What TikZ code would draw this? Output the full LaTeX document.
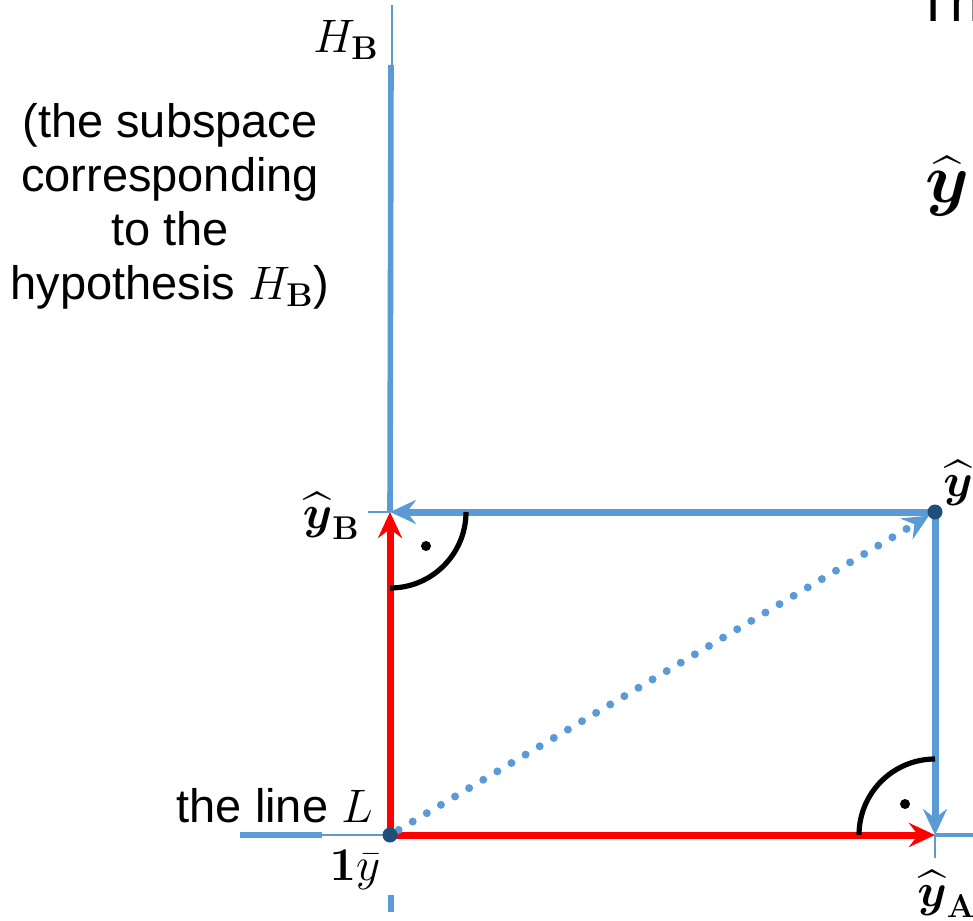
\RequirePackage{fix-cm}
\documentclass[tikz,border=0pt]{standalone}
\usepackage{amsmath}
\usepackage[no-math]{fontspec}
\setmainfont{Liberation Sans}
\usetikzlibrary{arrows.meta}
\definecolor{axisblue}{HTML}{5B9BD5}
\definecolor{pointblue}{HTML}{1F4E79}
\newcommand{\yhat}{\widehat{\boldsymbol{y}}}

\begin{document}
\begin{tikzpicture}[x=0.5pt, y=-0.5pt, >={Stealth[length=13pt, width=12pt, inset=4.5pt]},
  thinaxis/.style={axisblue, line width=0.8pt},
  thickaxis/.style={axisblue, line width=2.8pt},
  redvec/.style={red, line width=3.5pt, ->},
  bluevec/.style={axisblue, line width=3.5pt, ->},
  dotvec/.style={axisblue, line width=4pt, line cap=round, dash pattern=on 0pt off 8.2pt, ->},
  pointdot/.style={circle, fill=pointblue, inner sep=0pt, minimum size=7.5pt},
  rangle/.style={black, line width=2.6pt},
  lbl/.style={font=\fontsize{23.5}{27}\selectfont, inner sep=0pt}]
\useasboundingbox (0,0) rectangle (973,920);
\coordinate (ybar) at (390,835);
\coordinate (yhat) at (935,512);
\coordinate (yB) at (390,512);
\coordinate (yA) at (935,835);
\draw[thinaxis] (392,5) -- (392,65);
\draw[thickaxis] (391,65) -- (yB);
\draw[thickaxis] (391,895) -- (391,912);
\draw[thickaxis] (240,835) -- (322,835);
\draw[thinaxis] (322,835) -- (ybar);
\draw[axisblue, line width=1.8pt] (yA) -- (973,835);
\draw[thinaxis] (368,512) -- (yB);
\draw[thinaxis] (yA) -- (935,858);
\draw[redvec] (ybar) -- (yB);
\draw[redvec] (ybar) -- (yA);
\draw[bluevec] (yhat) -- (yB);
\draw[bluevec] (yhat) -- (yA);
\draw[dotvec, shorten <=5pt, shorten >=3.5pt] (ybar) -- (yhat);
\draw[rangle] (466,512) arc[start angle=0, end angle=90, radius=76];
\draw[rangle] (935,759) arc[start angle=-90, end angle=-180, radius=76];
\fill (426,546) circle[radius=5];
\fill (905,804) circle[radius=5];
\node[pointdot] (ybardot) at (ybar) {};
\node[pointdot] (yhatdot) at (yhat) {};
\node[lbl, anchor=north, align=center] (subspace) at (170,103) {(the subspace\\corresponding\\to the\\hypothesis $H_{\mathbf{B}}$)};
\node[lbl, anchor=base west, font=\fontsize{28}{32}\selectfont] (title) at (916,22) {Th};
\node[lbl, anchor=west, font=\fontsize{35}{40}\selectfont] (yhatside) at (925,186) {$\yhat$};
\node[lbl, anchor=south west] (yhatlbl) at (943,506) {$\yhat$};
\node[lbl, anchor=north west] (yAlbl) at (917,870) {$\yhat_{\mathbf{A}}$};
\node[lbl, anchor=east] (yBlbl) at (360,516) {$\yhat_{\mathbf{B}}$};
\node[lbl] (HBlbl) at (346,40) {$H_{\mathbf{B}}$};
\node[lbl] (onelbl) at (355,870) {$\mathbf{1}\bar{y}$};
\node[lbl, anchor=base east] (linelbl) at (373,822) {the line $L$};
\end{tikzpicture}
\end{document}
